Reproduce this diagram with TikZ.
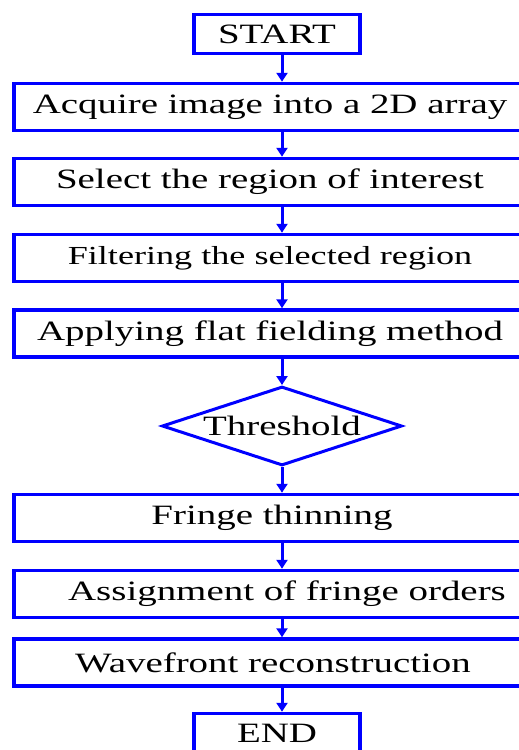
\documentclass[tikz,border=0pt]{standalone}
\usepackage{fontspec}
\setmainfont{Liberation Serif}
\usepackage{graphicx}
\usetikzlibrary{arrows.meta,shapes.geometric}
\newcommand{\widetext}[1]{\scalebox{1.39}[1]{#1}}
\begin{document}
\begin{tikzpicture}[x=1pt, y=-1pt,
    stage/.style={draw=blue, line width=3.5pt, minimum width=512pt, minimum height=47pt, inner sep=0pt, font=\fontsize{28}{30}\selectfont},
    term/.style={stage, minimum width=166pt, minimum height=39pt},
    test/.style={draw=blue, line width=3pt, diamond, aspect=3, minimum width=240pt, minimum height=79pt, inner sep=0pt, font=\fontsize{28}{30}\selectfont},
    flow/.style={blue, line width=3pt, -{Triangle[length=9pt,width=11pt]}}]
  \path[use as bounding box] (0,0) rectangle (519,750);
  \clip (0,0) rectangle (519,750);
  \coordinate (axis) at (282,0);
  \node[term] (start) at (277,34) {\widetext{START}};
  \node[stage] (acq) at (270,107) {\widetext{Acquire image into a 2D array}};
  \node[stage] (sel) at (270,182) {\widetext{Select the region of interest}};
  \node[stage, font=\fontsize{26}{28}\selectfont] (filt) at (270,258) {\widetext{Filtering the selected region}};
  \node[stage] (flat) at (270,333.5) {\widetext{Applying flat fielding method}};
  \node[test] (thr) at (282,426) {\widetext{Threshold}};
  \node[stage] (thin) at (270,518) {\hspace*{4pt}\widetext{Fringe thinning}};
  \node[stage] (ord) at (270,594) {\hspace*{34pt}\widetext{Assignment of fringe orders}};
  \node[stage] (wave) at (270,662.5) {\hspace*{6pt}\widetext{Wavefront reconstruction}};
  \node[term] (stop) at (277,733) {\widetext{END}};
  \draw[flow] (start.south -| axis) -- (acq.north -| axis);
  \draw[flow] (acq.south -| axis) -- (sel.north -| axis);
  \draw[flow] (sel.south -| axis) -- (filt.north -| axis);
  \draw[flow] (filt.south -| axis) -- (flat.north -| axis);
  \draw[flow] (flat.south -| axis) -- (thr.north);
  \draw[flow] (thr.south) -- (thin.north -| axis);
  \draw[flow] (thin.south -| axis) -- (ord.north -| axis);
  \draw[flow] (ord.south -| axis) -- (wave.north -| axis);
  \draw[flow] (wave.south -| axis) -- (stop.north -| axis);
\end{tikzpicture}
\end{document}
